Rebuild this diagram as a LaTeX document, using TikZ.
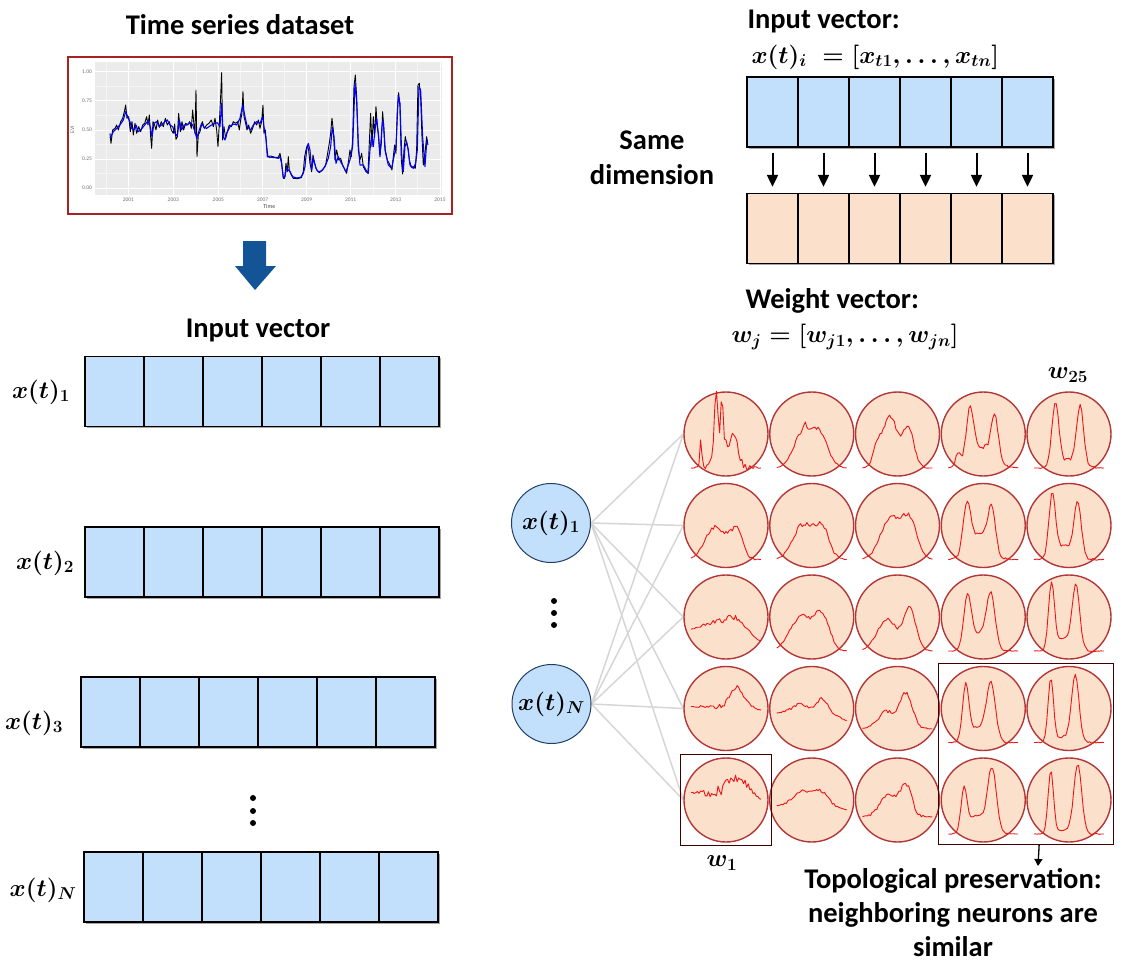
\documentclass[tikz,border=0pt]{standalone}
\usepackage{fix-cm}
\usepackage{fontspec}
\setmainfont{Carlito}
\usetikzlibrary{arrows.meta, positioning, fit, shadows, backgrounds}

\definecolor{vecblue}{RGB}{194,224,251}
\definecolor{vecpeach}{RGB}{251,224,204}
\definecolor{somred}{RGB}{180,55,55}
\definecolor{tracered}{RGB}{240,20,20}
\definecolor{arrowblue}{RGB}{18,84,150}
\definecolor{linkgray}{RGB}{214,214,214}
\definecolor{panelgray}{RGB}{235,235,235}
\definecolor{gridminor}{RGB}{245,245,245}
\definecolor{framered}{RGB}{165,35,35}
\definecolor{nodeedge}{RGB}{35,62,100}

\newcommand{\somtrace}[3]{%
    \draw[somline, shift = {(#1)}] plot[domain = -1:1, samples = 45] ({35*\x}, {34 - 69*(#3 + #2*rand*(1-(\x)*(\x)))});%
}

\begin{document}
\begin{tikzpicture}[
        x = 1pt, y = -1pt,
        > = {Triangle[length = 12pt, width = 11pt]},
        line width = 1pt,
        declare function = {g(\gx,\gm,\gs) = exp(-min((((\gx)-(\gm))/(\gs))^2, 9));},
        lbl/.style = {inner sep = 0pt, font = \fontsize{28.5}{34}\selectfont\bfseries},
        mth/.style = {inner sep = 0pt, font = \fontsize{24.5}{29}\selectfont\boldmath},
        vcell/.style = {draw, line width = 1.3pt, minimum width = 59pt, minimum height = 70pt, inner sep = 0pt,
            drop shadow = {shadow xshift = 1.5pt, shadow yshift = -1.5pt, fill = black, opacity = 0.35}},
        somcell/.style = {circle, draw = somred, line width = 1.4pt, fill = vecpeach, minimum size = 84pt, inner sep = 0pt},
        somline/.style = {draw = tracered, line width = 0.9pt, line join = round},
        innode/.style = {mth, circle, draw = nodeedge, fill = vecblue, minimum size = 79pt, line width = 1pt},
        linkline/.style = {draw = linkgray, line width = 1.5pt},
        hlbox/.style = {draw = black!75!red, line width = 1pt},
        ticklbl/.style = {inner sep = 1pt, text = black!55, font = \fontsize{5.5}{6}\selectfont}
    ]
    \pgfmathsetseed{7}
    \useasboundingbox (0,0) rectangle (1125,964);

    % time series
    \node[lbl] (tstitle) at (240,25) {Time series dataset};
    \draw[draw = framered, line width = 1.2pt, fill = white] (68,57) rectangle (452,214);
    \begin{scope}[shift = {(60,50)}, x = 0.3333pt, y = -0.3333pt]
        \fill[panelgray] (105,35) rectangle (1145,435);
        \foreach \px in {138,272,408,541,674,806,940,1073}
            \draw[gridminor, line width = 0.4pt] (\px,35) -- (\px,435);
        \foreach \py in {108,196,283,370}
            \draw[gridminor, line width = 0.4pt] (105,\py) -- (1145,\py);
        \foreach \px/\yr in {205/2001,340/2003,475/2005,608/2007,740/2009,872/2011,1007/2013,1140/2015} {
            \draw[white, line width = 0.8pt] (\px,35) -- (\px,435);
            \node[ticklbl, anchor = north] (yr\yr) at (\px,438) {\yr};
        }
        \foreach \py/\val in {65/1.00,152/0.75,240/0.50,327/0.25,414/0.00} {
            \draw[white, line width = 0.8pt] (105,\py) -- (1145,\py);
            \node[ticklbl, anchor = east] (ev\py) at (100,\py) {\val};
        }
        \node[ticklbl, text = black!70, font = \fontsize{6}{7}\selectfont] (tlab) at (628,468) {Time};
        \node[ticklbl, rotate = 90] (evilab) at (37,240) {EVI};
        \draw[black, line width = 0.9pt, line join = round] plot coordinates {
            (150,250) (153,280) (158,240) (165,235) (170,225) (175,240) (182,215) (188,205) (193,185) (197,165)
            (201,205) (206,200) (211,245) (216,215) (220,255) (225,220) (230,250) (236,230) (242,245) (248,225)
            (254,220) (260,200) (264,225) (268,195) (272,260) (275,295) (279,215) (284,225) (288,240) (293,210)
            (298,232) (304,215) (310,230) (316,205) (322,225) (328,215) (334,240) (340,250) (344,222) (348,268)
            (352,260) (356,190) (361,245) (366,215) (371,240) (377,220) (383,225) (389,215) (394,235) (398,180)
            (402,225) (405,250) (408,120) (411,320) (415,255) (420,245) (427,215) (433,235) (440,225) (447,220)
            (454,210) (460,230) (465,205) (470,240) (474,290) (478,220) (482,140) (485,68) (488,270) (492,230)
            (497,265) (502,245) (508,225) (514,230) (520,215) (527,220) (533,215) (538,240) (542,210) (546,190)
            (549,125) (552,200) (556,215) (561,240) (566,225) (572,250) (578,235) (584,215) (590,225) (595,210)
            (600,235) (605,215) (609,165) (612,250) (616,240) (620,290) (624,320) (632,318) (645,322) (655,322)
            (660,310) (664,330) (667,360) (670,385) (674,385) (678,340) (682,365) (685,320) (688,360) (694,375)
            (700,385) (712,386) (724,383) (730,365) (734,320) (738,300) (742,285) (746,300) (750,340) (755,365)
            (759,315) (764,340) (770,360) (778,368) (788,360) (797,345) (803,310) (808,280) (812,250) (816,205)
            (820,240) (825,330) (830,300) (836,330) (842,325) (848,345) (855,360) (860,370) (866,330) (870,300)
            (874,320) (878,270) (882,110) (886,75) (890,140) (895,300) (900,330) (905,310) (910,350) (918,365)
            (924,370) (928,280) (932,190) (936,290) (940,200) (944,260) (948,170) (952,230) (956,260) (960,315)
            (964,280) (968,185) (972,240) (976,300) (982,330) (990,345) (996,360) (1000,320) (1004,285) (1008,310)
            (1012,180) (1016,128) (1020,170) (1024,330) (1028,372) (1032,300) (1036,260) (1040,280) (1044,295) (1048,330)
            (1054,352) (1060,350) (1066,355) (1070,300) (1074,105) (1078,100) (1082,140) (1086,260) (1090,345) (1096,300)
            (1100,260) (1104,285)};
        \draw[blue, line width = 1.1pt, line join = round] plot coordinates {
            (150,265) (160,245) (170,235) (180,225) (190,210) (197,185) (203,200) (210,215) (215,235) (222,240)
            (228,225) (235,245) (242,240) (250,230) (258,220) (265,212) (272,235) (276,260) (282,220) (290,215)
            (298,230) (305,225) (315,215) (322,210) (330,225) (338,230) (345,250) (352,258) (358,210) (365,240)
            (372,225) (380,225) (390,218) (398,225) (405,245) (410,265) (418,240) (425,220) (432,232) (440,235)
            (450,228) (460,222) (472,218) (480,230) (485,160) (490,260) (495,270) (500,250) (510,230) (520,222)
            (530,225) (540,205) (548,165) (555,200) (562,230) (572,240) (580,225) (590,215) (600,220) (608,200)
            (612,230) (618,265) (622,320) (630,322) (645,323) (655,325) (660,320) (665,340) (670,382) (675,380)
            (680,352) (685,360) (690,365) (698,380) (710,384) (722,382) (730,370) (735,350) (740,300) (745,280)
            (750,300) (755,360) (760,325) (768,355) (775,366) (785,362) (795,350) (805,325) (812,290) (817,232)
            (822,260) (828,340) (835,320) (842,335) (850,350) (858,365) (865,345) (870,330) (878,290) (885,100)
            (890,150) (895,280) (900,345) (910,345) (918,360) (925,370) (930,300) (935,255) (940,290) (945,240)
            (950,205) (955,250) (960,320) (966,230) (970,210) (975,300) (985,345) (995,355) (1002,320) (1008,290)
            (1015,135) (1020,160) (1025,310) (1030,365) (1035,290) (1040,275) (1045,300) (1050,345) (1060,355) (1067,340)
            (1072,300) (1077,110) (1082,120) (1088,260) (1095,350) (1100,280) (1103,270)};
    \end{scope}
    \fill[arrowblue] (243,241) -- (266,241) -- (266,266) -- (276,266) -- (255,290) -- (235,266) -- (243,266) -- cycle;

    % input vectors
    \node[lbl] (invtitle) at (258,330) {Input vector};
    \foreach \r/\xo/\yc/\lx/\ly/\sub in {1/85/391.5/41/392/1, 2/85/562/45/563/2, 3/81/712/34/723/3, 4/84/887/43/890/N} {
        \foreach \k in {1,...,6}
            \node[vcell, fill = vecblue] (v\r-\k) at ({\xo + 59*\k - 29.5}, \yc) {};
        \node[mth] (lab\r) at (\lx,\ly) {$x(t)_{\sub}$};
    }
    \foreach \d in {798,811,823}
        \fill (253,\d) circle (3pt);

    % same dimension
    \node[lbl, anchor = west] (invhead) at (747,21) {Input vector:};
    \node[mth, anchor = west] (xform) at (751,57) {$x(t)_i\; = [x_{t1}, \ldots, x_{tn}]$};
    \foreach \k in {1,...,6} {
        \node[vcell, minimum width = 51pt, fill = vecblue] (in-\k) at ({747 + 51*\k - 25.5}, 112) {};
        \node[vcell, minimum width = 51pt, fill = vecpeach] (wt-\k) at ({747 + 51*\k - 25.5}, 228.5) {};
        \draw[->, line width = 2pt, shorten < = 5pt, shorten > = 6pt] (in-\k) -- (wt-\k);
    }
    \node[lbl, align = center, font = \fontsize{28.5}{35}\selectfont\bfseries] (samedim) at (652,158) {Same\\dimension};
    \node[lbl, anchor = west] (wthead) at (745,301) {Weight vector:};
    \node[mth, anchor = west] (wform) at (731,337) {$w_j = \bigl[w_{j1}, \ldots, w_{jn}\bigr]$};

    % SOM grid
    \foreach \r in {1,...,5}
        \foreach \c in {1,...,5}
            \node[somcell] (s-\r-\c) at ({726 + 85.75*(\c - 1)}, {434 + 91.5*(\r - 1)}) {};

    \somtrace{s-1-1}{0.06}{0.95*g(\x,-0.28,0.07) + 0.7*g(\x,-0.12,0.05) + 0.35*g(\x,0,0.35) + 0.25*g(\x,0.25,0.12) + 0.4*g(\x,-0.72,0.04)}
    \somtrace{s-1-2}{0.03}{0.45*g(\x,-0.3,0.35) + 0.5*g(\x,0.2,0.35) + 0.1*g(\x,-0.2,0.08)}
    \somtrace{s-1-3}{0.03}{0.75*g(\x,-0.22,0.32) + 0.55*g(\x,0.32,0.22) + 0.2*g(\x,-0.6,0.15)}
    \somtrace{s-1-4}{0.03}{0.75*g(\x,-0.38,0.15) + 0.6*g(\x,0.33,0.14) + 0.3*g(\x,0,0.45) + 0.2*g(\x,-0.72,0.1)}
    \somtrace{s-1-5}{0.03}{0.9*g(\x,-0.39,0.14) + 0.85*g(\x,0.32,0.14) + 0.12*g(\x,0,0.4)}

    \somtrace{s-2-1}{0.04}{0.48*g(\x,-0.3,0.4) + 0.42*g(\x,0.3,0.25)}
    \somtrace{s-2-2}{0.04}{0.5*g(\x,-0.25,0.4) + 0.45*g(\x,0.3,0.28)}
    \somtrace{s-2-3}{0.03}{0.6*g(\x,-0.2,0.4) + 0.55*g(\x,0.35,0.3)}
    \somtrace{s-2-4}{0.03}{0.68*g(\x,-0.47,0.15) + 0.6*g(\x,0.24,0.15) + 0.38*g(\x,-0.1,0.4)}
    \somtrace{s-2-5}{0.03}{0.9*g(\x,-0.48,0.13) + 0.75*g(\x,0.25,0.14) + 0.2*g(\x,-0.1,0.4)}

    \somtrace{s-3-1}{0.04}{0.3 + 0.12*g(\x,-0.3,0.5) + 0.15*g(\x,0.25,0.3) - 0.15*g(\x,1,0.3)}
    \somtrace{s-3-2}{0.03}{0.5*g(\x,-0.3,0.45) + 0.48*g(\x,0.3,0.3)}
    \somtrace{s-3-3}{0.03}{0.45*g(\x,-0.3,0.4) + 0.6*g(\x,0.35,0.25)}
    \somtrace{s-3-4}{0.02}{0.75*g(\x,-0.45,0.15) + 0.75*g(\x,0.22,0.17) + 0.25*g(\x,-0.1,0.35)}
    \somtrace{s-3-5}{0.02}{0.95*g(\x,-0.5,0.12) + 0.88*g(\x,0.2,0.15) + 0.18*g(\x,-0.12,0.35)}

    \somtrace{s-4-1}{0.04}{0.52 + 0.3*g(\x,0.3,0.25) - 0.05*g(\x,1,0.2)}
    \somtrace{s-4-2}{0.03}{0.42 + 0.13*g(\x,-0.3,0.4) + 0.2*g(\x,0.3,0.2) - 0.1*g(\x,1,0.25)}
    \somtrace{s-4-3}{0.03}{0.2 + 0.25*g(\x,-0.3,0.35) + 0.5*g(\x,0.25,0.25)}
    \somtrace{s-4-4}{0.02}{0.8*g(\x,-0.5,0.13) + 0.85*g(\x,0.22,0.18) + 0.22*g(\x,-0.17,0.3)}
    \somtrace{s-4-5}{0.02}{0.92*g(\x,-0.52,0.11) + 0.95*g(\x,0.18,0.15) + 0.08*g(\x,-0.15,0.3)}

    \somtrace{s-5-1}{0.08}{0.6 + 0.22*g(\x,0.3,0.35) - 0.1*g(\x,1,0.2)}
    \somtrace{s-5-2}{0.03}{0.4 + 0.22*g(\x,-0.2,0.45) + 0.15*g(\x,0.3,0.25) - 0.05*g(\x,1,0.2)}
    \somtrace{s-5-3}{0.04}{0.25 + 0.3*g(\x,-0.25,0.35) + 0.45*g(\x,0.25,0.22)}
    \somtrace{s-5-4}{0.02}{0.62*g(\x,-0.55,0.12) + 0.95*g(\x,0.25,0.18) + 0.28*g(\x,-0.2,0.3)}
    \somtrace{s-5-5}{0.02}{0.92*g(\x,-0.52,0.11) + 1.0*g(\x,0.25,0.16) + 0.05*g(\x,-0.15,0.3)}

    % input neurons
    \node[innode] (xin1) at (551,523) {$x(t)_1$};
    \node[innode] (xinN) at (551.5,704) {$x(t)_N$};
    \foreach \d in {601,613,625}
        \fill (554,\d) circle (3pt);
    \begin{scope}[on background layer]
        \foreach \i in {xin1, xinN}
            \foreach \r in {1,...,5}
                \draw[linkline] (\i.east) -- (s-\r-1.west);
    \end{scope}

    \node[mth] (w25) at (1068,375) {$w_{25}$};
    \node[mth] (w1) at (722,863) {$w_1$};
    \node[hlbox, fit = (s-5-1), inner sep = 3pt] (hlA) {};
    \node[hlbox, fit = (s-4-4) (s-5-5), inner sep = 2pt] (hlB) {};
    \node[lbl, align = center] (topo) at (953,913) {Topological preservation:\\neighboring neurons are\\similar};
    \coordinate (topotip) at (1038,866);
    \draw[-{Triangle[length = 7pt, width = 8pt]}, line width = 1.3pt] ([xshift = 13pt]hlB.south) -- (topotip);
\end{tikzpicture}
\end{document}
